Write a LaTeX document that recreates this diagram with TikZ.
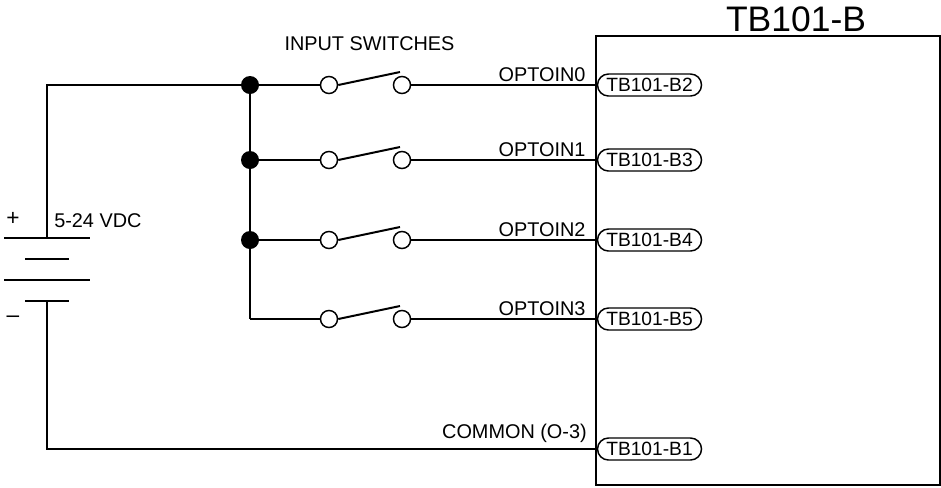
\documentclass[tikz,border=0pt]{standalone}
\usepackage{fontspec}
\setmainfont{Liberation Sans}
\usetikzlibrary{shapes.misc}
\tikzset{
  wire/.style={line width=1.5pt},
  contact/.style={circle,draw,line width=1.1pt,fill=white,minimum size=12.8pt,inner sep=0pt},
  junction/.style={circle,fill=black,minimum size=13.5pt,inner sep=0pt},
  pin/.style={rounded rectangle,draw,line width=1.1pt,fill=white,minimum width=78pt,minimum height=16.5pt,inner sep=0pt,font=\fontsize{14.4}{14}\selectfont},
  lbl/.style={font=\fontsize{14.9}{16}\selectfont,inner sep=0pt,anchor=base},
  sign/.style={font=\fontsize{17}{18}\selectfont,inner sep=0pt,anchor=base},
}
\begin{document}
\begin{tikzpicture}[x=0.75pt,y=-0.75pt]
\useasboundingbox (0,0) rectangle (941,487);
\draw[wire] (595.5,36) rectangle (940,485);
\node[font=\fontsize{26.6}{28}\selectfont,inner sep=0pt,anchor=base] (title) at (796,31) {TB101-B};
\node[lbl] (sw) at (369.5,50) {INPUT SWITCHES};
% battery
\coordinate (p1l) at (4,238); \coordinate (p1r) at (90,238);
\coordinate (p2l) at (25,259); \coordinate (p2r) at (69,259);
\coordinate (p3l) at (4,280); \coordinate (p3r) at (90,280);
\coordinate (p4l) at (25,301); \coordinate (p4r) at (69,301);
\coordinate (bt) at (47,238); \coordinate (bb) at (47,301);
\draw[wire] (p1l)--(p1r) (p2l)--(p2r) (p3l)--(p3r) (p4l)--(p4r);
\node[lbl,anchor=base west] (vdc) at (54,227.5) {5-24 VDC};
\node[sign] (plus) at (13,225.5) {+};
\node[sign] (minus) at (13,322) {--};
% pins
\foreach \n/\y/\t in {b2/85/TB101-B2,b3/160/TB101-B3,b4/240/TB101-B4,b5/319/TB101-B5,b1/449/TB101-B1}
  \node[pin] (\n) at (649.5,\y) {\t};
% supply
\coordinate (top) at (47,85);
\coordinate (bot) at (47,449);
\coordinate (j0) at (250,85);
\coordinate (j3) at (250,319);
\draw[wire] (bt) -- (top) -- (j0) -- (j3);
\draw[wire] (bb) -- (bot) -- (b1.west);
\node[lbl,anchor=base east] (com) at (587,438) {COMMON (O-3)};
% switches
\foreach \n/\y/\m in {0/85/b2,1/160/b3,2/240/b4,3/319/b5}{
  \coordinate (j\n) at (250,\y);
  \node[contact] (a\n) at (329,\y) {};
  \node[contact] (c\n) at (402,\y) {};
  \coordinate (t\n) at (400,\y-13);
  \draw[wire] (a\n.east) -- (t\n);
  \draw[wire] (j\n) -- (a\n);
  \draw[wire] (c\n) -- (\m.west);
  \node[lbl,anchor=base] (o\n) at (542,\y-4) {OPTOIN\n};
}
\foreach \n in {0,1,2}
  \node[junction] (d\n) at (j\n) {};
\end{tikzpicture}
\end{document}
